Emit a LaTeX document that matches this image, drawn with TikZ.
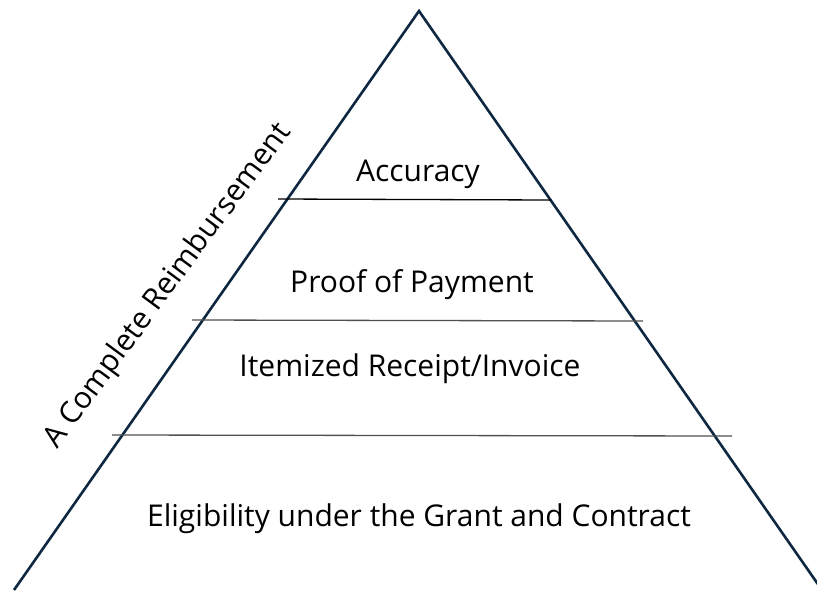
\documentclass[tikz,border=0pt]{standalone}
\usepackage{fontspec}
\setmainfont{Open Sans}
\begin{document}
\begin{tikzpicture}[x=1pt,y=-1pt,
  edge/.style={draw=navy,line width=2.6pt},
  tier/.style={line width=1.3pt},
  label/.style={font=\fontsize{30}{36}\selectfont,text=black,inner sep=0pt}]
\definecolor{navy}{HTML}{0E2841}
\definecolor{tiergrey}{HTML}{505050}
\useasboundingbox (0,0) rectangle (817,590);
% pyramid outline
\coordinate (apex) at (419,11);
\coordinate (bl) at (14,590);
\coordinate (br) at (822,590);
\draw[edge,line join=miter] (bl) -- (apex) -- (br);
% tier separators
\coordinate (s1l) at (278,199); \coordinate (s1r) at (551,200);
\coordinate (s2l) at (192,320); \coordinate (s2r) at (643,321);
\coordinate (s3l) at (112,435); \coordinate (s3r) at (732,436);
\draw[tier,black] (s1l) -- (s1r);
\draw[tier,tiergrey] (s2l) -- (s2r);
\draw[tier,tiergrey] (s3l) -- (s3r);
% tier labels
\node[label] (t1) at (418,174) {Accuracy};
\node[label] (t2) at (412,285) {Proof of Payment};
\node[label] (t3) at (410,369) {Itemized Receipt/Invoice};
\node[label] (t4) at (419,519) {Eligibility under the Grant and Contract};
% side caption
\node[label,rotate=53.6] (side) at (168,286) {A Complete Reimbursement};
\end{tikzpicture}
\end{document}
